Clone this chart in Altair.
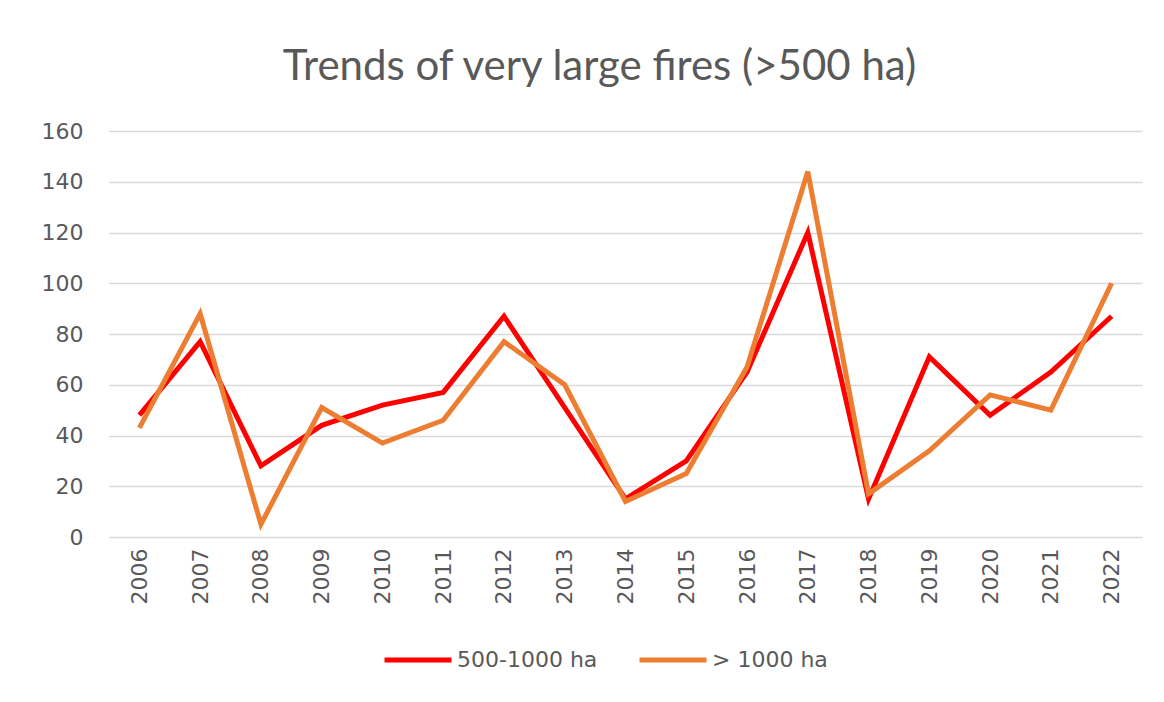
import altair as alt
import pandas as pd

years = [str(y) for y in range(2006, 2023)]
fires_500_1000 = [48, 77, 28, 44, 52, 57, 87, 51, 15, 30, 65, 120, 15, 71, 48, 65, 87]
fires_over_1000 = [43, 88, 5, 51, 37, 46, 77, 60, 14, 25, 67, 144, 17, 34, 56, 50, 100]
series_names = ["500-1000 ha", "> 1000 ha"]
series_colors = ["#FF0000", "#ED7D31"]
y_ticks = [0, 20, 40, 60, 80, 100, 120, 140, 160]

rows = []
for name, vals in zip(series_names, [fires_500_1000, fires_over_1000]):
    for yr, v in zip(years, vals):
        rows.append({"year": yr, "value": v, "series": name})
df = pd.DataFrame(rows)

TEXT = "#595959"
LABEL_FONT = "DejaVu Sans"

base = alt.Chart(df).encode(
    x=alt.X("year:O", sort=years, scale=alt.Scale(type="point", padding=0.5),
            axis=alt.Axis(title=None, labelAngle=-90, labelFontSize=22, labelFont=LABEL_FONT,
                          labelColor=TEXT, ticks=False, domain=False, grid=False,
                          labelPadding=11)),
    y=alt.Y("value:Q", scale=alt.Scale(domain=[0, 160], nice=False),
            axis=alt.Axis(title=None, values=y_ticks, labelFontSize=22, labelFont=LABEL_FONT,
                          labelColor=TEXT, ticks=False, domain=False, gridColor="#D9D9D9",
                          gridWidth=1.5, labelPadding=26)),
    color=alt.Color("series:N", scale=alt.Scale(domain=series_names, range=series_colors),
                    legend=alt.Legend(title=None, orient="none", legendX=273, legendY=493,
                                      direction="horizontal", symbolType="stroke",
                                      symbolSize=4489, symbolStrokeWidth=5,
                                      labelFontSize=22, labelFont=LABEL_FONT, labelColor=TEXT,
                                      labelOffset=3, columnPadding=31, padding=0)),
)

red = base.transform_filter(alt.datum.series == series_names[0]).mark_line(strokeWidth=5)
orange = base.transform_filter(alt.datum.series == series_names[1]).mark_line(strokeWidth=5)

chart = alt.layer(red, orange).properties(
    width=1033, height=406,
    title=alt.TitleParams("Trends of very large fires (>500 ha)", font="Lato", fontSize=42,
                          fontWeight="normal", color=TEXT, anchor="middle", frame="group",
                          dx=-26, offset=31),
    autosize=alt.AutoSizeParams(type="none"),
    padding={"left": 101, "top": 123, "right": 10, "bottom": 150},
).configure_view(stroke=None)

chart.save("out.html", embed_options={"renderer": "svg", "actions": False})
